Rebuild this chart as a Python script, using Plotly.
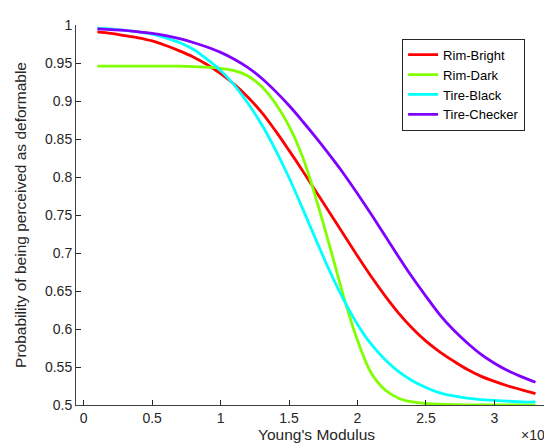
import plotly.graph_objects as go

# Young's modulus in units of 1e6
modulus = [0.1, 0.2, 0.3, 0.4, 0.5, 0.6, 0.7, 0.8, 0.9, 1.0, 1.1,
           1.2, 1.3, 1.4, 1.5, 1.6, 1.7, 1.8, 1.9, 2.0, 2.1, 2.2,
           2.3, 2.4, 2.5, 2.6, 2.7, 2.8, 2.9, 3.0, 3.1, 3.2, 3.3]

rim_bright = [0.991, 0.989, 0.986, 0.983, 0.979, 0.973, 0.966, 0.958, 0.948, 0.936, 0.922,
              0.905, 0.885, 0.861, 0.835, 0.808, 0.780, 0.752, 0.724, 0.696, 0.669, 0.644,
              0.621, 0.601, 0.584, 0.570, 0.558, 0.547, 0.538, 0.531, 0.525, 0.520, 0.515]
rim_dark = [0.946, 0.946, 0.946, 0.946, 0.946, 0.946, 0.9458, 0.9453, 0.9445, 0.943, 0.940,
            0.933, 0.919, 0.897, 0.867, 0.826, 0.770, 0.707, 0.642, 0.585, 0.542, 0.520,
            0.509, 0.504, 0.502, 0.501, 0.5005, 0.500, 0.500, 0.500, 0.500, 0.500, 0.500]
tire_black = [0.996, 0.995, 0.993, 0.991, 0.988, 0.983, 0.977, 0.968, 0.955, 0.940, 0.921,
              0.897, 0.869, 0.836, 0.799, 0.758, 0.716, 0.675, 0.638, 0.606, 0.580, 0.560,
              0.544, 0.532, 0.523, 0.516, 0.512, 0.509, 0.507, 0.506, 0.505, 0.504, 0.504]
tire_checker = [0.995, 0.994, 0.993, 0.991, 0.989, 0.986, 0.982, 0.977, 0.971, 0.964, 0.955,
                0.944, 0.930, 0.913, 0.894, 0.873, 0.851, 0.828, 0.804, 0.778, 0.751, 0.723,
                0.695, 0.668, 0.643, 0.619, 0.599, 0.582, 0.567, 0.555, 0.545, 0.537, 0.530]

series = [("Rim-Bright", rim_bright, "#ff0000"),
          ("Rim-Dark", rim_dark, "#80ff00"),
          ("Tire-Black", tire_black, "#00ffff"),
          ("Tire-Checker", tire_checker, "#8000ff")]

x_ticks = [0, 0.5, 1, 1.5, 2, 2.5, 3]
x_ticklabels = ["0", "0.5", "1", "1.5", "2", "2.5", "3"]
y_ticks = [0.5, 0.55, 0.6, 0.65, 0.7, 0.75, 0.8, 0.85, 0.9, 0.95, 1]
y_ticklabels = ["0.5", "0.55", "0.6", "0.65", "0.7", "0.75", "0.8", "0.85", "0.9", "0.95", "1"]

fig = go.Figure()
for name, vals, color in series:
    fig.add_trace(go.Scatter(x=modulus, y=vals, name=name, mode="lines",
                             line=dict(color=color, width=2.8, shape="spline")))

axis_common = dict(showline=True, linecolor="#404040", linewidth=1, ticks="inside",
                   ticklen=5, tickcolor="#262626", showgrid=False, zeroline=False,
                   mirror=False, tickfont=dict(size=14, color="#262626"))

fig.update_layout(
    width=552, height=445,
    margin=dict(l=68, r=3, t=17, b=48),
    paper_bgcolor="white", plot_bgcolor="white",
    font=dict(family="Liberation Sans, Arial, sans-serif", color="#262626"),
    xaxis=dict(range=[-0.056, 3.457], tickvals=x_ticks, ticktext=x_ticklabels,
               title=dict(text="Young's Modulus", font=dict(size=15.5), standoff=4),
               **axis_common),
    yaxis=dict(range=[0.5, 1], tickvals=y_ticks, ticktext=y_ticklabels,
               title=dict(text="Probability of being perceived as deformable",
                          font=dict(size=15.5), standoff=14),
               **axis_common),
    legend=dict(x=0.678, y=0.964, xanchor="left", yanchor="top",
                bordercolor="#262626", borderwidth=1, bgcolor="white",
                font=dict(size=13, color="#000000"), tracegroupgap=0),
    showlegend=True,
)

fig.add_annotation(text="×10⁶", xref="paper", yref="paper", x=0.99, y=-0.08,
                   xanchor="right", yanchor="middle", showarrow=False, borderpad=0,
                   font=dict(size=14, color="#262626"))

fig.write_html("out.html")
